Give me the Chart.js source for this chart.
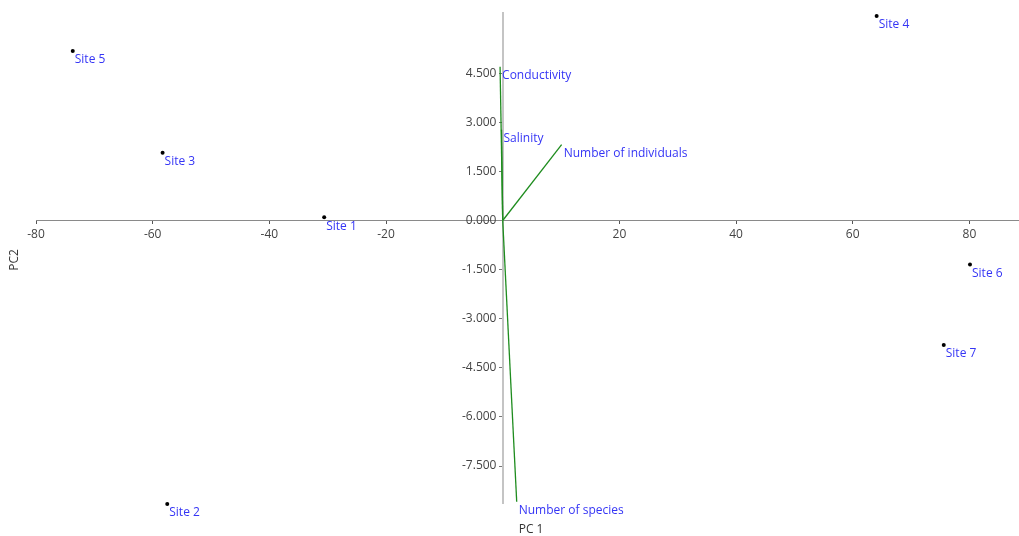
<!DOCTYPE html>
<html>
<head>
<meta charset="utf-8">
<script src="https://cdn.jsdelivr.net/npm/chart.js@4/dist/chart.umd.min.js"></script>
<style>
  html, body { margin: 0; padding: 0; background: #fff; }
  #wrap { width: 1019px; height: 536px; }
</style>
</head>
<body>
<div id="wrap"><canvas id="pcaChart"></canvas></div>
<script>
// sites (scores)
const siteNames = ['Site 1', 'Site 2', 'Site 3', 'Site 4', 'Site 5', 'Site 6', 'Site 7'];
const siteX = [-30.6, -57.5, -58.3, 64.1, -73.7, 80.1, 75.6];
const siteY = [0.10, -8.66, 2.07, 6.25, 5.18, -1.34, -3.80];

// variables (loadings, drawn as vectors from the origin)
const varNames = ['Conductivity', 'Salinity', 'Number of individuals', 'Number of species'];
const varX = [-0.45, -0.2, 10.1, 2.4];
const varY = [4.70, 2.77, 2.32, -8.59];

// tick labels
const xTicks = [-80, -60, -40, -20, 20, 40, 60, 80];
const yTicks = [-7.5, -6, -4.5, -3, -1.5, 0, 1.5, 3, 4.5];

const labelBlue = '#3535f5';
const vectorGreen = '#1e8c1e';

const datasets = [];
varNames.forEach((name, i) => {
    datasets.push({
        type: 'scatter',
        data: [{x: 0, y: 0}, {x: varX[i], y: varY[i]}],
        pointLabels: [null, name],
        showLine: true,
        borderColor: vectorGreen,
        borderWidth: 1.3,
        pointRadius: 0
    });
});
datasets.push({
    type: 'scatter',
    data: siteX.map((x, i) => ({x: x, y: siteY[i]})),
    pointLabels: siteNames,
    backgroundColor: '#000',
    borderColor: '#000',
    pointRadius: 2,
    borderWidth: 0
});

// text next to each point / vector end
const pointLabelPlugin = {
    id: 'pointLabels',
    afterDatasetsDraw(chart) {
        const ctx = chart.ctx;
        ctx.save();
        ctx.font = '12px "Open Sans", sans-serif';
        ctx.fillStyle = labelBlue;
        ctx.textAlign = 'left';
        ctx.textBaseline = 'top';
        chart.data.datasets.forEach((ds, di) => {
            const meta = chart.getDatasetMeta(di);
            meta.data.forEach((el, i) => {
                const txt = ds.pointLabels && ds.pointLabels[i];
                if (txt) ctx.fillText(txt, el.x + 2, el.y + 3);
            });
        });
        ctx.restore();
    }
};

// axis names: "PC 1" below the plot next to the vertical axis, "PC2" on the far left
const axisNamePlugin = {
    id: 'axisNames',
    afterDraw(chart) {
        const ctx = chart.ctx;
        const area = chart.chartArea;
        const x0 = chart.scales.x.getPixelForValue(0);
        ctx.save();
        ctx.font = '12px "Open Sans", sans-serif';
        ctx.fillStyle = '#333';
        ctx.textAlign = 'left';
        ctx.textBaseline = 'middle';
        ctx.fillText('PC 1', x0 + 16, area.bottom + 27);
        ctx.translate(15, (area.top + area.bottom) / 2 + 2);
        ctx.rotate(-Math.PI / 2);
        ctx.textAlign = 'center';
        ctx.fillText('PC2', 0, 0);
        ctx.restore();
    }
};

new Chart(document.getElementById('pcaChart').getContext('2d'), {
    type: 'scatter',
    data: { datasets: datasets },
    options: {
        responsive: true,
        maintainAspectRatio: false,
        animation: false,
        clip: false,
        layout: { autoPadding: false, padding: { left: 36, top: 13, right: 0, bottom: 33 } },
        plugins: {
            legend: { display: false },
            tooltip: { enabled: false }
        },
        scales: {
            x: {
                type: 'linear',
                position: { y: 0 },
                min: -80,
                max: 88.5,
                afterBuildTicks: (axis) => { axis.ticks = xTicks.map(v => ({value: v})); },
                grid: { drawOnChartArea: false, drawTicks: true, tickLength: 3, color: '#555' },
                border: { color: '#8a8a8a', width: 1 },
                ticks: { color: '#444', font: { family: 'Open Sans', size: 12 }, padding: 4 }
            },
            y: {
                type: 'linear',
                position: { x: 0 },
                min: -8.63,
                max: 6.34,
                afterBuildTicks: (axis) => { axis.ticks = yTicks.map(v => ({value: v})); },
                grid: { drawOnChartArea: false, drawTicks: true, tickLength: 3, color: '#777' },
                border: { color: '#c4c4c4', width: 2 },
                ticks: {
                    color: '#444',
                    font: { family: 'Open Sans', size: 12 },
                    callback: (v) => Number(v).toFixed(3) + '  '
                }
            }
        }
    },
    plugins: [pointLabelPlugin, axisNamePlugin]
});
</script>
</body>
</html>
